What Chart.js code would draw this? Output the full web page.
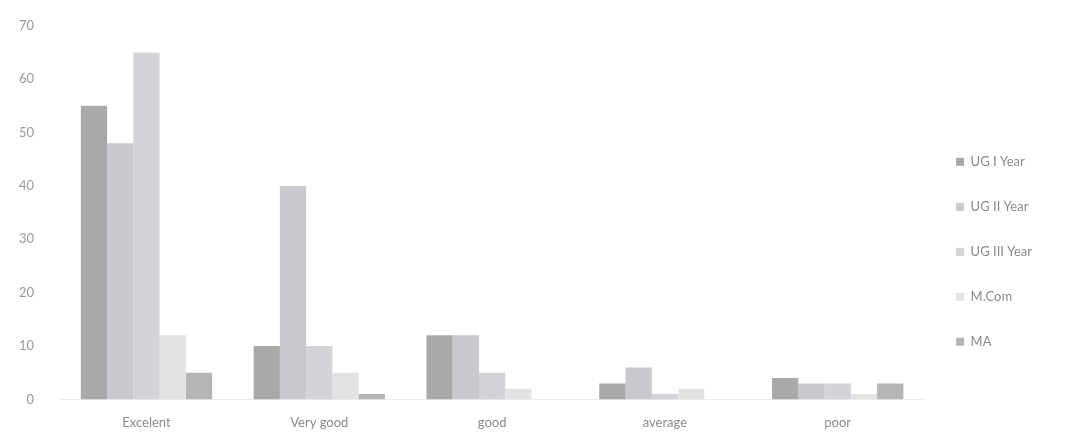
<!DOCTYPE html>
<html>
<head>
<meta charset="utf-8">
<script src="https://cdn.jsdelivr.net/npm/chart.js@4.4.0/dist/chart.umd.min.js"></script>
<style>
  html, body { margin: 0; padding: 0; background: #fff; }
  #wrap { width: 1082px; height: 443px; }
</style>
</head>
<body>
<div id="wrap"><canvas id="chart"></canvas></div>
<script>
// Categories and series
const categories = ['Excelent', 'Very good', 'good', 'average', 'poor'];
const ugOne = [55, 10, 12, 3, 4];
const ugTwo = [48, 40, 12, 6, 3];
const ugThree = [65, 10, 5, 1, 3];
const mCom = [12, 5, 2, 2, 1];
const ma = [5, 1, 0, 0, 3];
const yTicks = [0, 10, 20, 30, 40, 50, 60, 70];

const seriesNames = ['UG I Year', 'UG II Year', 'UG III Year', 'M.Com', 'MA'];
const seriesColors = ['#a9a9ab', '#c9c9cd', '#d3d3d8', '#e3e3e6', '#b5b5b7'];
const seriesData = [ugOne, ugTwo, ugThree, mCom, ma];

document.addEventListener('DOMContentLoaded', function () {
    const ctx = document.getElementById('chart').getContext('2d');
    new Chart(ctx, {
        type: 'bar',
        data: {
            labels: categories,
            datasets: seriesNames.map((name, i) => ({
                label: name,
                data: seriesData[i],
                backgroundColor: seriesColors[i],
                borderWidth: 0,
                categoryPercentage: 0.76,
                barPercentage: 1
            }))
        },
        options: {
            responsive: true,
            maintainAspectRatio: false,
            animation: false,
            layout: { padding: { left: 1, right: 40, top: 7, bottom: 4 } },
            plugins: {
                legend: {
                    position: 'right',
                    // empty title only pushes the legend items down a bit
                    title: {
                        display: true,
                        text: ' ',
                        padding: { top: 21, bottom: 21 },
                        font: { family: 'Lato', size: 13 }
                    },
                    labels: {
                        boxWidth: 8,
                        boxHeight: 8,
                        padding: 32,
                        color: '#8a8a8a',
                        font: { family: 'Lato', size: 13 }
                    }
                },
                tooltip: { enabled: false }
            },
            scales: {
                y: {
                    min: 0,
                    max: 70,
                    afterBuildTicks: axis => {
                        axis.ticks = yTicks.map(v => ({ value: v }));
                    },
                    grid: { display: false },
                    border: { display: false },
                    ticks: {
                        color: '#9a9a9a',
                        padding: 18,
                        font: { family: 'Lato', size: 13 }
                    }
                },
                x: {
                    grid: { display: false },
                    border: { display: true, color: '#ececec' },
                    ticks: {
                        color: '#8a8a8a',
                        padding: 8,
                        font: { family: 'Lato', size: 13 }
                    }
                }
            }
        }
    });
});
</script>
</body>
</html>
